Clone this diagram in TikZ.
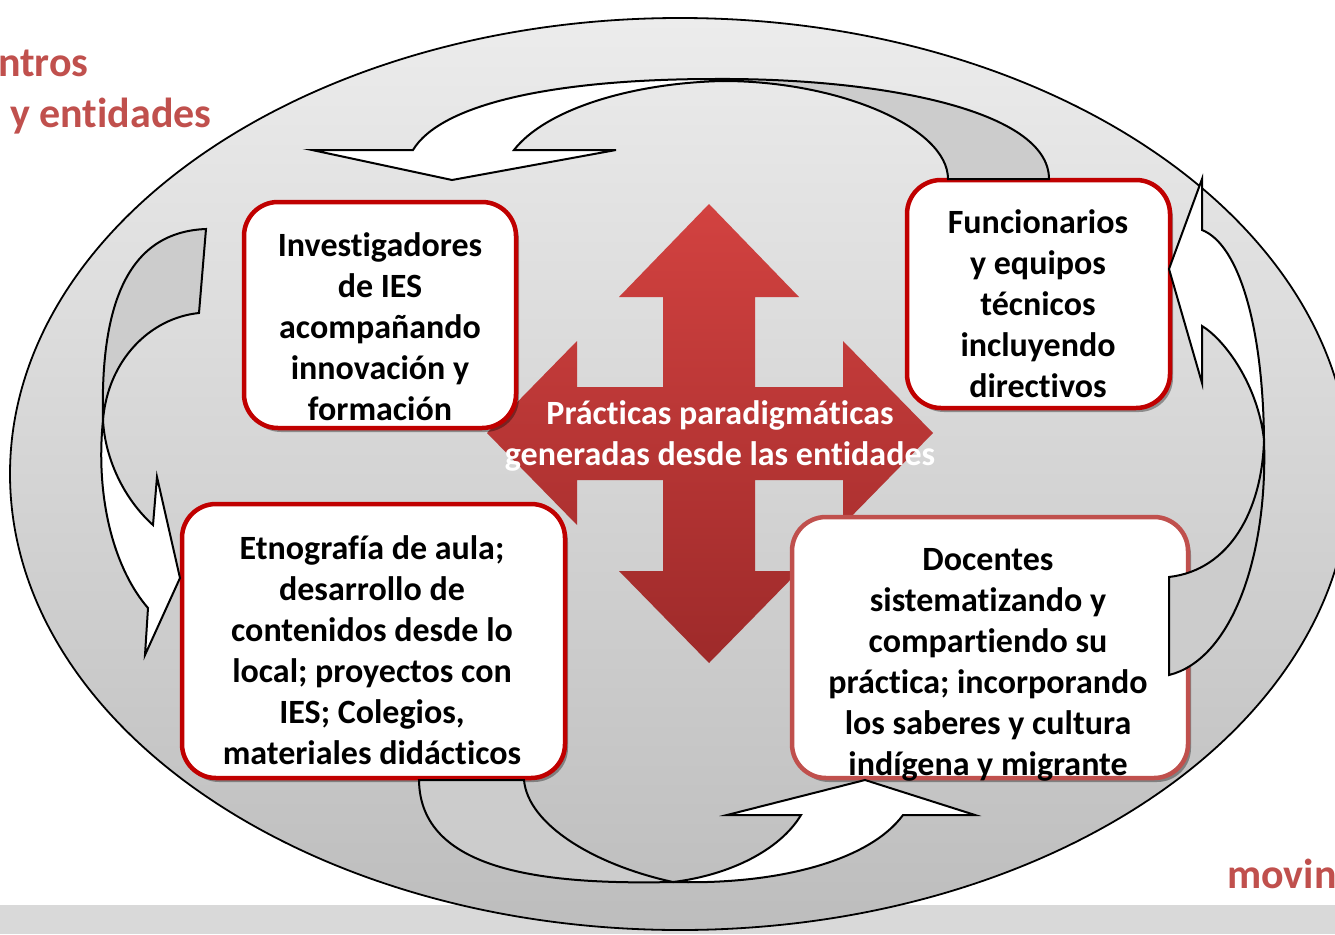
\documentclass[tikz,border=0pt]{standalone}
\usepackage{fontspec}
\setmainfont{Carlito}[Ligatures=NoCommon]
\usetikzlibrary{shadows,positioning}

\definecolor{rojobox}{RGB}{192,0,0}
\definecolor{rojosuave}{RGB}{192,80,77}
\definecolor{rojoalto}{RGB}{210,66,64}
\definecolor{rojobajo}{RGB}{158,42,42}
\definecolor{elipsealto}{RGB}{236,236,236}
\definecolor{elipsebajo}{RGB}{189,189,189}
\definecolor{franja}{RGB}{217,217,217}
\definecolor{grisdorso}{RGB}{204,204,204}

\tikzset{
  caja/.style={draw=rojobox, line width=4.5pt, fill=white, rounded corners=34pt, inner sep=0pt,
    drop shadow={shadow xshift=3pt, shadow yshift=-4pt, opacity=0.35, fill=black}},
  texto/.style={align=center, inner sep=0pt, font=\fontsize{34}{41}\selectfont\bfseries},
  rotulo/.style={inner sep=0pt, anchor=base west, text=rojosuave, font=\fontsize{42}{50}\selectfont\bfseries},
  frente/.style={draw=black, line width=2pt, fill=white},
  atras/.style={draw=black, line width=2pt, fill=grisdorso}
}

\begin{document}
\begin{tikzpicture}[x=1pt,y=-1pt]
    \useasboundingbox (0,0) rectangle (1335,934);
    \fill[franja] (0,905) rectangle (1335,934);

    \node[rotulo] (centros) at (-2,77) {ntros};
    \node[rotulo] (entidades) at (10,127) {y entidades};
    \node[rotulo] (movin) at (1227,888) {movin};

    \draw[line width=1.8pt, top color=elipsealto, bottom color=elipsebajo]
      (680,474) ellipse [x radius=670pt, y radius=456pt];

    % cruz central
    \begin{scope}[shift={(709,433)}]
      \path[top color=rojoalto, bottom color=rojobajo]
        (0,-229) -- (90,-136) -- (46,-136) -- (46,-46) -- (134,-46) -- (134,-92)
        -- (224,0) -- (134,92) -- (134,47) -- (46,47) -- (46,138) -- (90,138)
        -- (0,230) -- (-90,138) -- (-46,138) -- (-46,47) -- (-132,47) -- (-132,92)
        -- (-222,0) -- (-132,-92) -- (-132,-46) -- (-46,-46) -- (-46,-136) -- (-90,-136) -- cycle;
    \end{scope}
    \node[texto, text=white] (practicas) at (720,436) {Prácticas paradigmáticas\\generadas desde las entidades};

    \node[caja, minimum width=272pt, minimum height=226pt] (inv) at (380,315) {};
    \node[caja, minimum width=263pt, minimum height=228pt] (fun) at (1038.5,294) {};
    \node[caja, minimum width=383pt, minimum height=274pt] (etn) at (373.5,641) {};
    \node[caja, draw=rojosuave, minimum width=396pt, minimum height=261pt] (doc) at (990,647.5) {};

    \node[texto] (inv-t) at (380,326.5) {Investigadores\\de IES\\acompañando\\innovación y\\formación};
    \node[texto] (fun-t) at (1038,303.5) {Funcionarios\\y equipos\\técnicos\\incluyendo\\directivos};
    \node[texto] (etn-t) at (372,650) {Etnografía de aula;\\desarrollo de\\contenidos desde lo\\local; proyectos con\\IES; Colegios,\\materiales didácticos};
    \node[texto] (doc-t) at (988,664.5) {Docentes\\sistematizando y\\compartiendo su\\práctica; incorporando\\los saberes y cultura\\indígena y migrante};

    % flecha de arriba
    \draw[atras] (715,79) .. controls (880,78) and (1049,110) .. (1049,179) -- (948,179)
      .. controls (948,128) and (840,81) .. (723,81) -- cycle;
    \draw[frente] (715,79) .. controls (550,79) and (440,105) .. (413,150) -- (312,150) -- (452,180)
      -- (616,150) -- (514,150) .. controls (545,110) and (630,83) .. (723,81) -- cycle;

    % flecha de la derecha
    \draw[atras] (1264,440) .. controls (1268,560) and (1230,660) .. (1169,675) -- (1169,577)
      .. controls (1230,570) and (1262,510) .. (1264,440) -- cycle;
    \draw[frente] (1264,440) .. controls (1263,330) and (1240,245) .. (1202,230) -- (1202,179)
      -- (1169,269) -- (1202,383) -- (1202,326) .. controls (1225,340) and (1258,385) .. (1264,440) -- cycle;

    % flecha de la izquierda
    \draw[atras] (206,229) .. controls (130,232) and (100,300) .. (103,420)
      .. controls (108,360) and (150,318) .. (199,313) -- cycle;
    \draw[frente] (103,420) .. controls (95,500) and (115,570) .. (148,608) -- (145,655) -- (180,578)
      -- (157,477) -- (153,525) .. controls (125,500) and (105,460) .. (103,420) -- cycle;

    % flecha de abajo
    \draw[atras] (419,780) .. controls (420,870) and (540,885) .. (673,882)
      .. controls (595,865) and (528,825) .. (524,780) -- cycle;
    \draw[frente] (673,882) .. controls (780,885) and (870,860) .. (903,815) -- (975,815) -- (865,780)
      -- (727,815) -- (801,815) .. controls (780,850) and (730,875) .. (673,882) -- cycle;
\end{tikzpicture}
\end{document}
